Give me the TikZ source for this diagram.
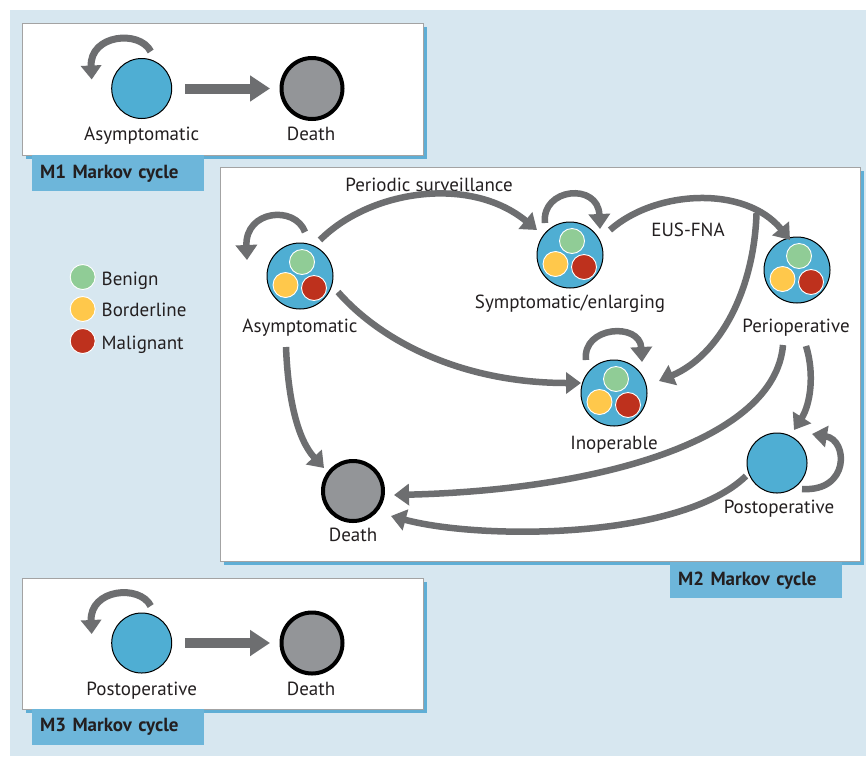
\documentclass[tikz,border=0pt]{standalone}
\usepackage{fontspec}
\setmainfont{PT Sans}
\usetikzlibrary{arrows.meta,calc}
\definecolor{bgblue}{HTML}{D7E7F0}
\definecolor{shadowblue}{HTML}{5FAED5}
\definecolor{tagblue}{HTML}{6DB6DA}
\definecolor{nodeblue}{HTML}{4FAED3}
\definecolor{deadgrey}{HTML}{939598}
\definecolor{arrgrey}{HTML}{6D6E70}
\definecolor{boxgrey}{HTML}{A3A3A3}
\definecolor{cgreen}{HTML}{90CC96}
\definecolor{cyellow}{HTML}{FFC84B}
\definecolor{cred}{HTML}{BE311D}
\definecolor{txt}{HTML}{231F20}
\newcommand{\innertrio}[1]{%
  \node[dot, fill=cgreen]  (#1g) at ([shift={(2,-14)}]#1.center) {};
  \node[dot, fill=cyellow] (#1y) at ([shift={(-14.5,9)}]#1.center) {};
  \node[dot, fill=cred]    (#1r) at ([shift={(14,12)}]#1.center) {};}
\tikzset{
  panel/.style={draw=boxgrey, line width=1pt, fill=white, inner sep=0pt},
  tagbox/.style={fill=tagblue, text=txt, font=\fontsize{19}{22}\selectfont\bfseries,
     minimum width=172pt, minimum height=36pt, text width=156pt, align=left, inner xsep=8pt, inner ysep=0pt},
  state/.style={circle, draw=black, line width=1pt, fill=nodeblue, minimum size=66pt, inner sep=0pt},
  dead/.style={circle, draw=black, line width=4pt, fill=deadgrey, minimum size=60pt, inner sep=0pt},
  dot/.style={circle, draw=white, line width=0.9pt, minimum size=25pt, inner sep=0pt},
  lbl/.style={text=txt, anchor=base, inner sep=0pt},
  arr/.style={draw=arrgrey, line width=6.5pt, -{Triangle[length=15pt,width=21pt]}},
  bigarr/.style={draw=arrgrey, line width=10pt, -{Triangle[length=20pt,width=25pt]}},
  smallloop/.style={draw=arrgrey, line width=7pt, -{Triangle[length=14pt,width=20pt]}},
}
\begin{document}
\begin{tikzpicture}[x=1pt, y=-1pt, font=\fontsize{19}{22}\selectfont]
\useasboundingbox (0,0) rectangle (866,756);
\fill[white] (0,0) rectangle (866,756);
\fill[bgblue] (9.5,9.5) rectangle (866,756);

% ---------------- M1 ----------------
\fill[shadowblue] (26,27) rectangle (427,159);
\node[panel, minimum width=401pt, minimum height=132pt, anchor=north west] (m1box) at (22,23) {};
\node[tagbox, anchor=north west] (m1tag) at (32,155) {M1 Markov cycle};
\node[state, minimum size=60pt] (m1a) at (141.7,88.5) {};
\node[dead, minimum size=61pt] (m1d) at (312,88.5) {};
\node[lbl] (m1al) at (141.7,140) {Asymptomatic};
\node[lbl] (m1dl) at (311,140.5) {Death};
\draw[bigarr, shorten <=13pt, shorten >=9.5pt] (m1a) -- (m1d);
\draw[smallloop] ([shift={(9,-37)}]m1a.center) .. controls ([shift={(-2,-59)}]m1a.center) and ([shift={(-52,-54)}]m1a.center) .. ([shift={(-50,-9)}]m1a.center);

% ---------------- M3 ----------------
\fill[shadowblue] (26,582) rectangle (427,713);
\node[panel, minimum width=401pt, minimum height=131pt, anchor=north west] (m3box) at (22,578) {};
\node[tagbox, anchor=north west] (m3tag) at (32,709) {M3 Markov cycle};
\node[state, minimum size=60pt] (m3a) at (141.7,643) {};
\node[dead, minimum size=61pt] (m3d) at (312,643) {};
\node[lbl] (m3al) at (141.7,695) {Postoperative};
\node[lbl] (m3dl) at (311,695) {Death};
\draw[bigarr, shorten <=13pt, shorten >=9.5pt] (m3a) -- (m3d);
\draw[smallloop] ([shift={(9,-37)}]m3a.center) .. controls ([shift={(-2,-59)}]m3a.center) and ([shift={(-52,-54)}]m3a.center) .. ([shift={(-50,-9)}]m3a.center);

% ---------------- Legend ----------------
\node[dot, fill=cgreen]  (lgg) at (82.7,277) {};
\node[dot, fill=cyellow] (lgy) at (82.7,309) {};
\node[dot, fill=cred]    (lgr) at (82.7,341) {};
\node[lbl, anchor=base west] (lggt) at (101.5,285) {Benign};
\node[lbl, anchor=base west] (lgyt) at (101.5,316.7) {Borderline};
\node[lbl, anchor=base west] (lgrt) at (101.5,349) {Malignant};

% ---------------- M2 ----------------
\fill[shadowblue] (224,171) rectangle (864,565);
\node[panel, minimum width=640pt, minimum height=394pt, anchor=north west] (m2box) at (220,167) {};
\node[tagbox, anchor=north west] (m2tag) at (670,562) {M2 Markov cycle};

\node[state] (A) at (300,276) {};
\node[state] (S) at (570,255) {};
\node[state] (P) at (797,270) {};
\node[state] (I) at (614,393) {};
\node[state, minimum size=60pt] (Q) at (777,463) {};
\node[dead] (D) at (353,491) {};
\innertrio{A}
\innertrio{S}
\innertrio{P}
\innertrio{I}

\node[lbl] (Al) at (300,332) {Asymptomatic};
\node[lbl] (Sl) at (570,308) {Symptomatic/enlarging};
\node[lbl] (Pl) at (796,332) {Perioperative};
\node[lbl] (Il) at (614,449) {Inoperable};
\node[lbl] (Ql) at (779,513) {Postoperative};
\node[lbl] (Dl) at (353,541) {Death};
\node[lbl] (survl) at (429,191) {Periodic surveillance};
\node[lbl] (eusl) at (688,236) {EUS-FNA};

% self loops
\draw[arr] ([shift={(5,-44)}]A.center) .. controls (295,205) and (245,210) .. ([shift={(-53,-16)}]A.center);
\draw[arr] ([shift={(-25,-32)}]S.center) .. controls (541,188) and (598,182) .. ([shift={(30,-26)}]S.center);
\draw[arr] ([shift={(-28,-33)}]I.center) .. controls (582,326) and (640,322) .. ([shift={(28,-31)}]I.center);
\draw[arr] ([shift={(25,26)}]Q.center) .. controls (850,492) and (848,440) .. ([shift={(35,-29)}]Q.center);

% transitions
\draw[arr] ([shift={(20,-36)}]A.center) .. controls (370,190) and (470,175) .. ([shift={(-33,-25)}]S.center);
\draw[arr] ([shift={(40,-25)}]S.center) .. controls (655,190) and (745,185) .. coordinate[pos=0.79] (br) ([shift={(-7,-30)}]P.center);
\draw[arr] (br) .. controls (754,290) and (720,355) .. ([shift={(45,-12)}]I.center);
\draw[arr] ([shift={(38,16)}]A.center) .. controls (380,340) and (460,383) .. ([shift={(-33,-10)}]I.center);
\draw[arr] ([shift={(-14,75)}]P.center) .. controls (775,440) and (600,490) .. ([shift={(41,4)}]D.center);
\draw[arr] ([shift={(9,76)}]P.center) .. controls (815,375) and (810,405) .. ([shift={(17,-33)}]Q.center);
\draw[arr] ([shift={(-31,13)}]Q.center) .. controls (680,540) and (480,540) .. ([shift={(38,25)}]D.center);
\draw[arr] ([shift={(-14,71)}]A.center) .. controls (288,400) and (298,440) .. ([shift={(-29,-23)}]D.center);
\end{tikzpicture}
\end{document}
